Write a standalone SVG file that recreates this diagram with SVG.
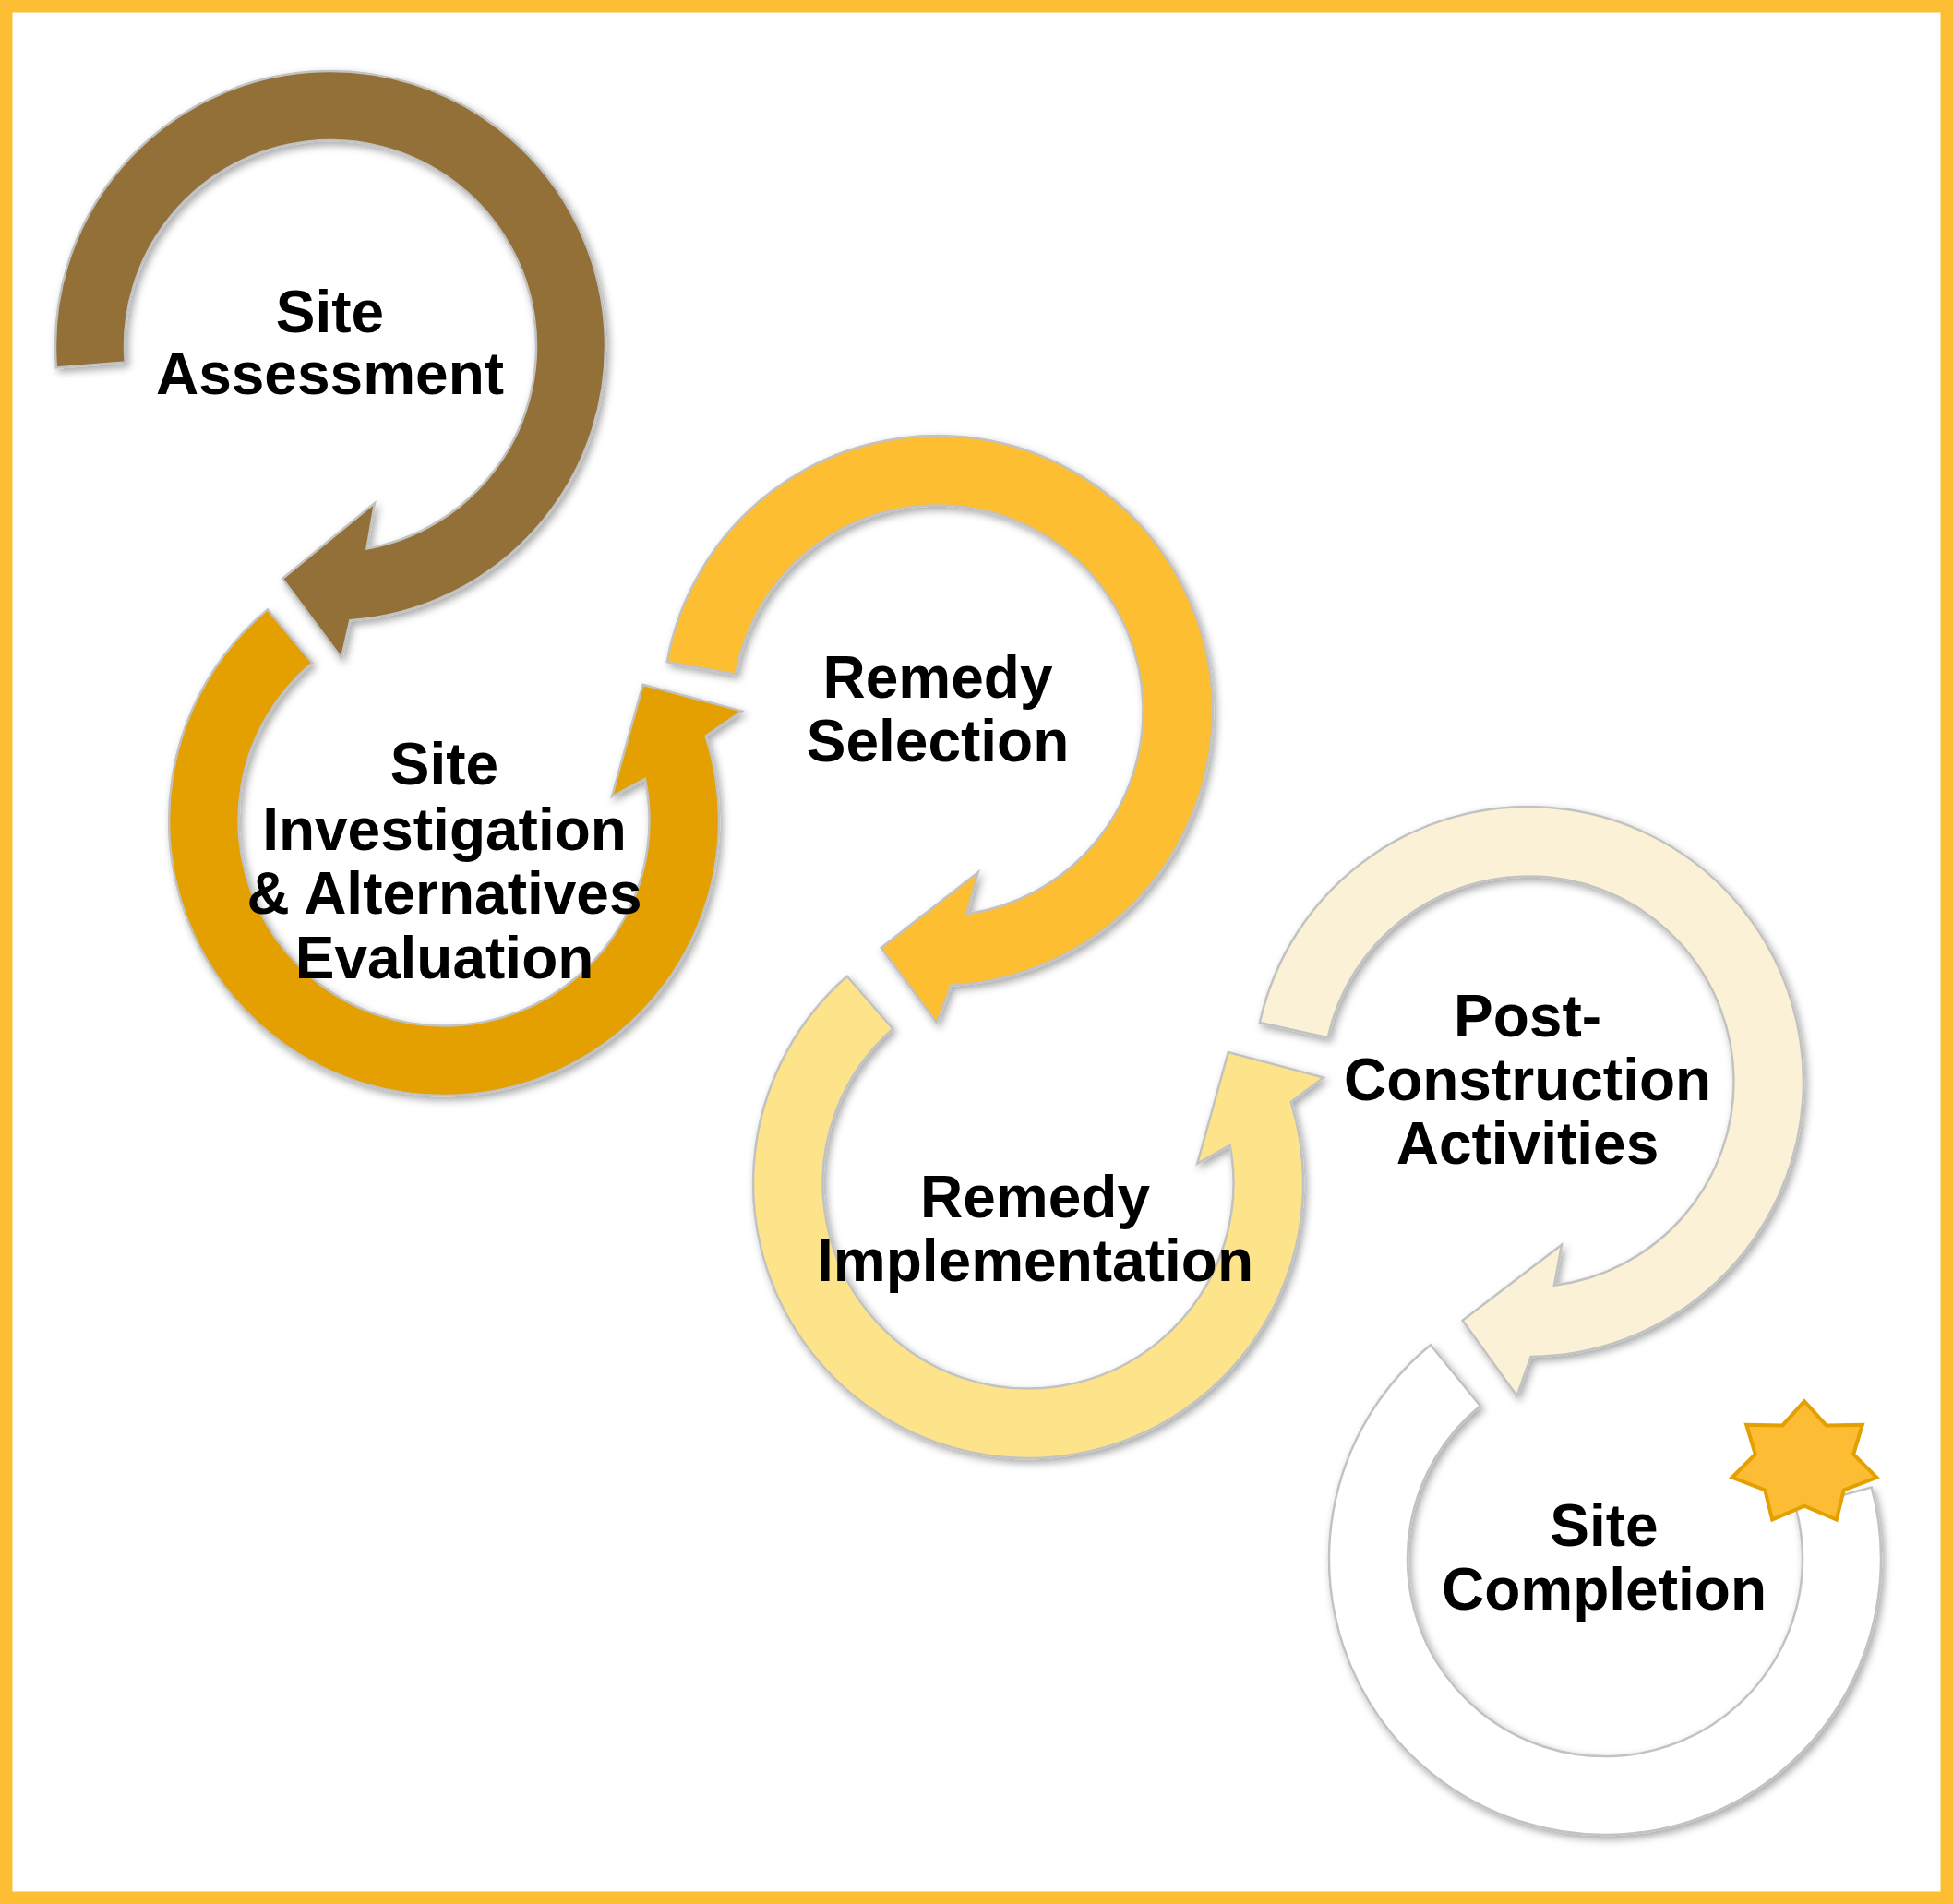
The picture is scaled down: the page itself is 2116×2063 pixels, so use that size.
<svg xmlns="http://www.w3.org/2000/svg" width="2116" height="2063" viewBox="0 0 2116 2063">
  <defs>
    <filter id="shadow" x="-10%" y="-10%" width="125%" height="125%">
      <feDropShadow dx="3" dy="4" stdDeviation="4" flood-color="#000000" flood-opacity="0.34"/>
    </filter>
    <style>
      .ring { stroke: #c2c2c2; stroke-width: 2.5; stroke-linejoin: miter; filter: url(#shadow); }
      .label { font-family: "Liberation Sans", Arial, sans-serif; font-weight: bold; font-size: 64px; fill: #000000; text-anchor: middle; }
      .star { fill: #FCBC33; stroke: #E3A000; stroke-width: 4; stroke-linejoin: miter; }
    </style>
  </defs>

  <rect id="frame" x="6.75" y="6.75" width="2102.5" height="2049.5" fill="#ffffff" stroke="#FDBE33" stroke-width="13.5"/>

  <g id="node-site-assessment">
    <path class="ring" fill="#936F38" d="M 60.9,398.4 A 298 298 0 1 1 379.3,672.2 L 370,713 L 306,627 L 406,545 L 397.5,594.5 A 223 223 0 1 0 135.7,392.5 Z"/>
  </g>

  <g id="node-site-investigation">
    <path class="ring" fill="#E3A002" d="M 289.9,660.4 A 298 298 0 1 0 764.6,797.4 L 804,770.4 L 696.6,741.8 L 663,863 L 698.9,843.9 A 222.5 222.5 0 1 1 338.3,718.3 Z"/>
  </g>

  <g id="node-remedy-selection">
    <path class="ring" fill="#FDBE33" d="M 722.7,717.2 A 298 298 0 1 1 1030.5,1067.6 L 1014.8,1108.5 L 954.6,1027.1 L 1059.9,945 L 1047.4,990.3 A 222.5 222.5 0 1 0 797,730.6 Z"/>
  </g>

  <g id="node-remedy-implementation">
    <path class="ring" fill="#FDE48B" d="M 917.7,1057.8 A 298 298 0 1 0 1398.7,1193.9 L 1434,1167.5 L 1330.8,1140.1 L 1297.2,1260.9 L 1332.6,1240.7 A 222.5 222.5 0 1 1 967.4,1114.6 Z"/>
  </g>

  <g id="node-post-construction">
    <path class="ring" fill="#FAF1D7" d="M 1364.9,1108 A 298 298 0 1 1 1658.6,1470 L 1643.5,1512.5 L 1584.6,1430.8 L 1692,1348.7 L 1683.9,1392.7 A 222.5 222.5 0 1 0 1438.7,1124.2 Z"/>
  </g>

  <g id="node-site-completion">
    <path class="ring" fill="#FFFFFF" d="M 1550,1457.3 A 299 299 0 1 0 2027.8,1611.6 L 1945.7,1633.6 A 214 214 0 1 1 1603.8,1523.2 Z"/>
    <polygon class="star" points="1955,1518.3 1978.7,1544.4 2017.8,1543.7 2008.2,1575.6 2033.3,1600.8 1997.7,1614.4 1989.8,1646.6 1955,1631.7 1920.2,1646.6 1912.3,1614.4 1876.7,1600.8 1901.8,1575.6 1892.2,1543.7 1931.3,1544.4"/>
  </g>

  <g id="connectors"></g>

  <g id="labels">
    <text class="label" x="357.5" y="359.5">Site</text>
    <text class="label" x="357.5" y="427">Assessment</text>

    <text class="label" x="481.5" y="850">Site</text>
    <text class="label" x="481.5" y="920.5">Investigation</text>
    <text class="label" x="481.5" y="990">&amp; Alternatives</text>
    <text class="label" x="481.5" y="1060">Evaluation</text>

    <text class="label" x="1016" y="755.5">Remedy</text>
    <text class="label" x="1016" y="825">Selection</text>

    <text class="label" x="1121.5" y="1318.5">Remedy</text>
    <text class="label" x="1121.5" y="1387.5">Implementation</text>

    <text class="label" x="1655" y="1122.5">Post-</text>
    <text class="label" x="1655" y="1191.5">Construction</text>
    <text class="label" x="1655" y="1260.5">Activities</text>

    <text class="label" x="1738" y="1674.5">Site</text>
    <text class="label" x="1738" y="1744">Completion</text>
  </g>
</svg>
